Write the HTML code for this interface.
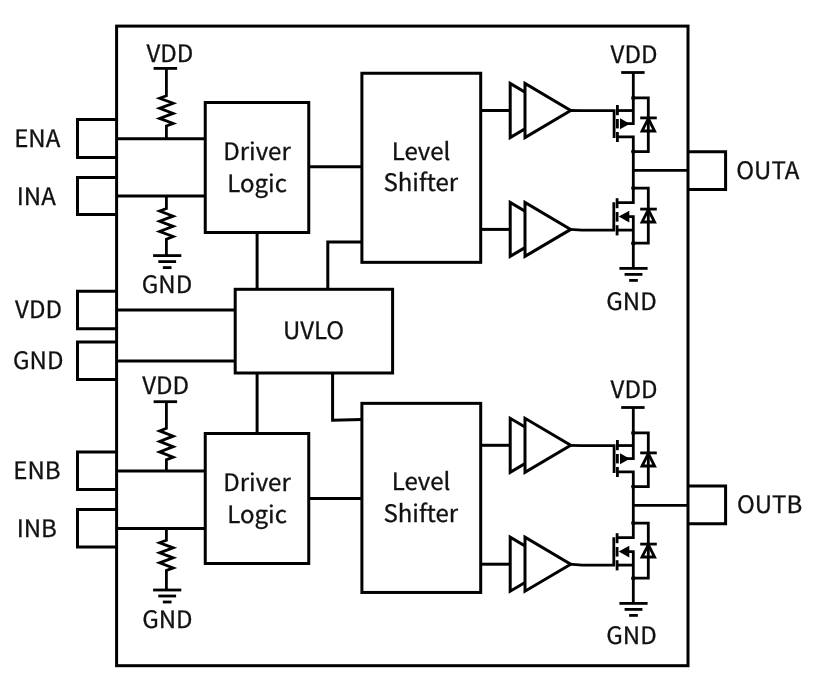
<!DOCTYPE html>
<html><head><meta charset="utf-8"><title>Dual gate driver block diagram</title>
<style>
html,body{margin:0;padding:0;background:#fff;}
body{width:819px;height:686px;overflow:hidden;}
svg{display:block;filter:blur(0.5px);}
svg path, svg rect{stroke:#000;stroke-width:3.0;fill:none;stroke-linejoin:miter;stroke-linecap:butt;}
svg .thin path{stroke-width:2.8;}
svg .wf{fill:#fff;}
svg .bf{fill:#000;stroke:none;}
svg text{font-family:"Noto Sans CJK SC","Noto Sans CJK JP","Liberation Sans",sans-serif;font-size:24px;fill:#111;stroke:#111;stroke-width:0.3px;text-rendering:geometricPrecision;}
</style></head>
<body>
<svg width="819" height="686" viewBox="0 0 819 686">
<rect x="0" y="0" width="819" height="686" style="fill:#fff;stroke:none"/>
<rect x="116.6" y="26.1" width="571.40" height="639.60"/>
<path d="M116.60 119.50 L77.50 119.50 L77.50 157.50 L116.60 157.50"/>
<path d="M116.60 177.50 L77.50 177.50 L77.50 214.60 L116.60 214.60"/>
<path d="M116.60 138.75 L205.25 138.75"/>
<path d="M116.60 195.90 L205.25 195.90"/>
<g class="thin">
<path d="M153.60 68.40 L177.10 68.40"/>
<path d="M166.40 68.40 L166.40 95.70 L159.60 98.23 L173.20 103.28 L159.60 108.33 L173.20 113.38 L159.60 118.42 L173.20 123.47 L166.40 126.00 L166.40 138.75"/>
<path d="M166.40 195.90 L166.40 208.50 L159.60 211.05 L173.20 216.15 L159.60 221.25 L173.20 226.35 L159.60 231.45 L173.20 236.55 L166.40 239.10 L166.40 255.60"/>
<path d="M153.10 255.60 L181.30 255.60"/><path d="M158.30 261.60 L176.10 261.60"/><path d="M162.85 267.60 L171.55 267.60"/>
</g>
<text x="169.90" y="62.30" text-anchor="middle">VDD</text>
<text x="167.00" y="292.50" text-anchor="middle">GND</text>
<text x="37.20" y="147.00" text-anchor="middle">ENA</text>
<text x="36.30" y="204.50" text-anchor="middle">INA</text>
<path d="M116.60 452.00 L77.50 452.00 L77.50 489.50 L116.60 489.50"/>
<path d="M116.60 509.50 L77.50 509.50 L77.50 547.00 L116.60 547.00"/>
<path d="M116.60 470.90 L205.25 470.90"/>
<path d="M116.60 528.50 L205.25 528.50"/>
<g class="thin">
<path d="M153.60 401.70 L177.10 401.70"/>
<path d="M166.40 401.70 L166.40 428.30 L159.60 430.93 L173.20 436.18 L159.60 441.43 L173.20 446.68 L159.60 451.93 L173.20 457.18 L166.40 459.80 L166.40 470.90"/>
<path d="M166.40 528.50 L166.40 540.30 L159.60 542.81 L173.20 547.82 L159.60 552.84 L173.20 557.86 L159.60 562.87 L173.20 567.89 L166.40 570.40 L166.40 590.00"/>
<path d="M153.10 590.00 L181.30 590.00"/><path d="M158.30 596.00 L176.10 596.00"/><path d="M162.85 602.00 L171.55 602.00"/>
</g>
<text x="165.60" y="394.20" text-anchor="middle">VDD</text>
<text x="167.40" y="627.70" text-anchor="middle">GND</text>
<text x="37.00" y="479.25" text-anchor="middle">ENB</text>
<text x="36.75" y="536.75" text-anchor="middle">INB</text>
<rect x="205.25" y="102.50" width="103.5" height="130"/>
<path d="M308.75 166.75 L361.90 166.75"/>
<text x="257.00" y="160.00" text-anchor="middle">Driver</text>
<text x="257.10" y="192.10" text-anchor="middle">Logic</text>
<rect x="205.25" y="433.50" width="103.5" height="130"/>
<path d="M308.75 498.45 L361.90 498.45"/>
<text x="257.00" y="491.00" text-anchor="middle">Driver</text>
<text x="257.10" y="523.10" text-anchor="middle">Logic</text>
<rect x="361.9" y="73.25" width="118.8" height="189.1"/>
<text x="421.00" y="159.60" text-anchor="middle">Level</text>
<text x="420.80" y="191.20" text-anchor="middle">Shifter</text>
<rect x="361.9" y="403.35" width="118.8" height="189.1"/>
<text x="421.00" y="490.30" text-anchor="middle">Level</text>
<text x="420.80" y="521.60" text-anchor="middle">Shifter</text>
<path d="M480.70 110.50 L510.20 110.50"/>
<path d="M510.2 83.50 L510.2 137.50 L555.9 110.50 Z" class="wf"/>
<path d="M525.0 83.50 L525.0 137.50 L570.7 110.50 Z" class="wf"/>
<path d="M480.70 229.40 L510.20 229.40"/>
<path d="M510.2 202.40 L510.2 256.40 L555.9 229.40 Z" class="wf"/>
<path d="M525.0 202.40 L525.0 256.40 L570.7 229.40 Z" class="wf"/>
<path d="M480.70 445.30 L510.20 445.30"/>
<path d="M510.2 418.30 L510.2 472.30 L555.9 445.30 Z" class="wf"/>
<path d="M525.0 418.30 L525.0 472.30 L570.7 445.30 Z" class="wf"/>
<path d="M480.70 564.20 L510.20 564.20"/>
<path d="M510.2 537.20 L510.2 591.20 L555.9 564.20 Z" class="wf"/>
<path d="M525.0 537.20 L525.0 591.20 L570.7 564.20 Z" class="wf"/>
<g class="thin" transform="translate(0 0)">
<path d="M569.50 110.50 L582.00 110.55 L614.10 110.55 L614.10 137.90"/>
<path d="M569.50 229.40 L582.00 230.10 L613.80 230.10 L613.80 202.30"/>
<path d="M621.20 72.50 L644.60 72.50"/>
<path d="M633.30 72.50 L633.30 123.70 L624.00 123.70"/>
<path d="M617.40 105.00 L617.40 115.20"/>
<path d="M617.40 119.00 L617.40 128.40"/>
<path d="M617.40 132.00 L617.40 142.00"/>
<path d="M617.40 110.55 L633.30 110.55"/>
<path d="M620.0 118.2 L629.8 123.7 L620.0 129.2 Z" class="bf"/>
<path d="M617.40 136.90 L633.30 136.90 L633.30 202.60 L617.10 202.60"/>
<path d="M633.30 97.90 L648.30 97.90 L648.30 151.60 L633.30 151.60"/>
<path d="M640.20 117.90 L656.80 117.90"/>
<path d="M648.3 118.5 L654.6 131.0 L642.0 131.0 Z"/>
<circle cx="633.3" cy="97.9" r="2.2" class="bf"/>
<circle cx="633.3" cy="151.6" r="2.2" class="bf"/>
<circle cx="633.3" cy="188.1" r="2.2" class="bf"/>
<circle cx="633.3" cy="243.2" r="2.2" class="bf"/>
<path d="M633.30 170.40 L688.00 170.40"/>
<path d="M617.10 198.20 L617.10 208.20"/>
<path d="M617.10 212.00 L617.10 221.60"/>
<path d="M617.10 225.20 L617.10 235.40"/>
<path d="M622.00 216.60 L633.30 216.60 L633.30 268.40"/>
<path d="M618.7 216.6 L629.3 210.7 L629.3 222.5 Z" class="bf"/>
<path d="M617.10 230.10 L633.30 230.10"/>
<path d="M633.30 188.10 L648.30 188.10 L648.30 243.20 L633.30 243.20"/>
<path d="M640.20 209.10 L656.80 209.10"/>
<path d="M648.3 209.7 L654.6 222.0 L642.0 222.0 Z"/>
<path d="M619.40 268.40 L647.60 268.40"/><path d="M624.60 274.40 L642.40 274.40"/><path d="M629.15 280.40 L637.85 280.40"/>
<text x="634.00" y="63.20" text-anchor="middle">VDD</text>
<text x="631.50" y="309.70" text-anchor="middle">GND</text>
</g>
<path d="M688.00 151.70 L725.60 151.70 L725.60 189.60 L688.00 189.60"/>
<text x="736.30" y="178.70" text-anchor="start">OUTA</text>
<g class="thin" transform="translate(0 335.0)">
<path d="M569.50 110.30 L582.00 110.55 L614.10 110.55 L614.10 137.90"/>
<path d="M569.50 229.20 L582.00 230.10 L613.80 230.10 L613.80 202.30"/>
<path d="M621.20 72.50 L644.60 72.50"/>
<path d="M633.30 72.50 L633.30 123.70 L624.00 123.70"/>
<path d="M617.40 105.00 L617.40 115.20"/>
<path d="M617.40 119.00 L617.40 128.40"/>
<path d="M617.40 132.00 L617.40 142.00"/>
<path d="M617.40 110.55 L633.30 110.55"/>
<path d="M620.0 118.2 L629.8 123.7 L620.0 129.2 Z" class="bf"/>
<path d="M617.40 136.90 L633.30 136.90 L633.30 202.60 L617.10 202.60"/>
<path d="M633.30 97.90 L648.30 97.90 L648.30 151.60 L633.30 151.60"/>
<path d="M640.20 117.90 L656.80 117.90"/>
<path d="M648.3 118.5 L654.6 131.0 L642.0 131.0 Z"/>
<circle cx="633.3" cy="97.9" r="2.2" class="bf"/>
<circle cx="633.3" cy="151.6" r="2.2" class="bf"/>
<circle cx="633.3" cy="188.1" r="2.2" class="bf"/>
<circle cx="633.3" cy="243.2" r="2.2" class="bf"/>
<path d="M633.30 170.40 L688.00 170.40"/>
<path d="M617.10 198.20 L617.10 208.20"/>
<path d="M617.10 212.00 L617.10 221.60"/>
<path d="M617.10 225.20 L617.10 235.40"/>
<path d="M622.00 216.60 L633.30 216.60 L633.30 268.40"/>
<path d="M618.7 216.6 L629.3 210.7 L629.3 222.5 Z" class="bf"/>
<path d="M617.10 230.10 L633.30 230.10"/>
<path d="M633.30 188.10 L648.30 188.10 L648.30 243.20 L633.30 243.20"/>
<path d="M640.20 209.10 L656.80 209.10"/>
<path d="M648.3 209.7 L654.6 222.0 L642.0 222.0 Z"/>
<path d="M619.40 268.40 L647.60 268.40"/><path d="M624.60 274.40 L642.40 274.40"/><path d="M629.15 280.40 L637.85 280.40"/>
<text x="634.00" y="63.20" text-anchor="middle">VDD</text>
<text x="631.50" y="309.10" text-anchor="middle">GND</text>
</g>
<path d="M688.00 485.90 L725.60 485.90 L725.60 523.80 L688.00 523.80"/>
<text x="736.90" y="513.10" text-anchor="start">OUTB</text>
<rect x="235.2" y="289.3" width="157.4" height="83.7"/>
<path d="M116.60 310.00 L235.20 310.00"/>
<path d="M116.60 361.00 L235.20 361.00"/>
<path d="M116.60 291.30 L77.50 291.30 L77.50 328.80 L116.60 328.80"/>
<path d="M116.60 342.00 L77.50 342.00 L77.50 379.40 L116.60 379.40"/>
<path d="M257.10 232.50 L257.10 289.30"/>
<path d="M327.80 289.30 L327.80 242.00 L361.90 242.00"/>
<path d="M257.10 373.00 L257.10 433.50"/>
<path d="M332.60 373.00 L332.60 420.30 L361.90 419.60"/>
<text x="313.50" y="338.90" text-anchor="middle">UVLO</text>
<text x="38.50" y="318.00" text-anchor="middle">VDD</text>
<text x="38.25" y="368.50" text-anchor="middle">GND</text>
</svg>
</body></html>
